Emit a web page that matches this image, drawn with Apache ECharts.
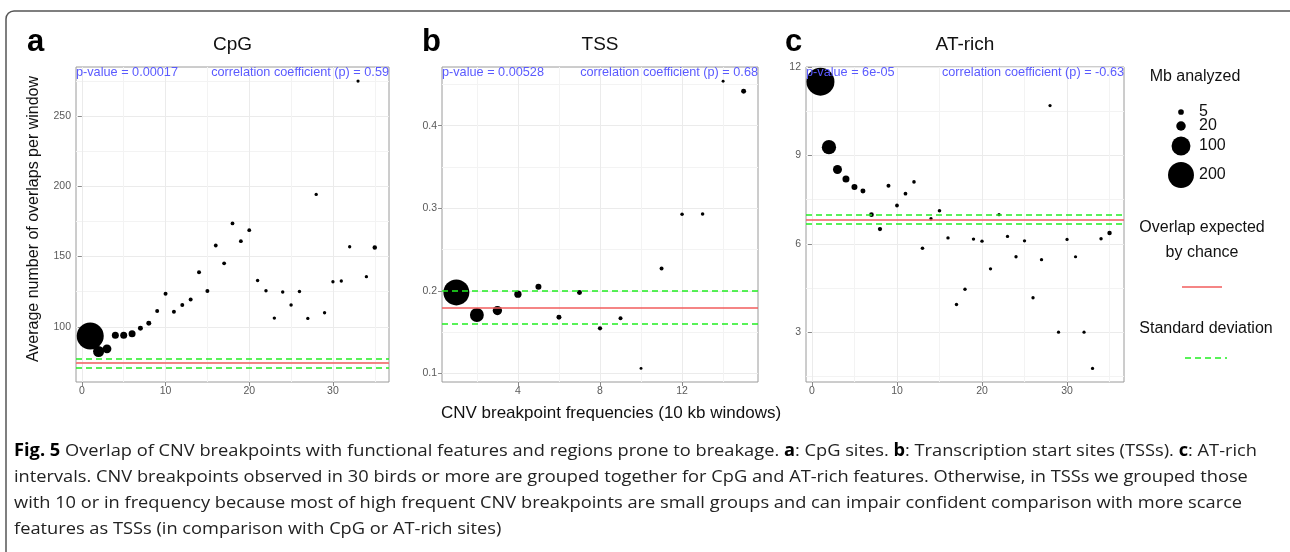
<!DOCTYPE html>
<html><head><meta charset="utf-8">
<script src="https://cdn.jsdelivr.net/npm/echarts@6.0.0/dist/echarts.min.js"></script>
<style>html,body{margin:0;padding:0;background:#fff}#c{width:1290px;height:552px}</style>
</head><body><div id="c"></div>
<script>
// ---------------- DATA ----------------
const freqCpG = [1,2,3,4,5,6,7,8,9,10,11,12,13,14,15,16,17,18,19,20,21,22,23,24,25,26,27,28,29,30,31,32,33,34,35];
const overlapCpG = [93.5,82.4,84.3,94,94,95,99,102.6,111.2,123.6,110.8,115.5,119.5,138.8,125.5,157.9,145.2,173.6,161,168.8,133,125.7,106.2,124.8,115.5,125.2,106,194.3,110,132.1,132.6,157,275,135.7,156.4];
const mbCpG = [218,29,17,9,9,9,3.3,3.3,1.5,1.5,1.5,1.5,1.5,1.5,1.5,1.2,1.2,1.2,1.2,1.2,0.8,0.8,0.8,0.8,0.8,0.8,0.7,0.7,0.7,0.7,0.7,0.7,0.6,0.7,2.3];
const expCpG = {mean: 74.1, lower: 70.5, upper: 77.4};

const freqTSS = [1,2,3,4,5,6,7,8,9,10,11,12,13,14,15];
const overlapTSS = [0.198,0.1707,0.176,0.1958,0.205,0.168,0.198,0.1545,0.1667,0.106,0.227,0.2927,0.293,0.4537,0.4416];
const mbTSS = [200,50,19,10,5.8,3.3,3.3,2,1.5,0.4,1.5,0.9,0.9,0.4,3.3];
const expTSS = {mean: 0.184, lower: 0.163, upper: 0.205};

const freqAT = [1,2,3,4,5,6,7,8,9,10,11,12,13,14,15,16,17,18,19,20,21,22,23,24,25,26,27,28,29,30,31,32,33,34,35];
const overlapAT = [11.5,9.28,8.52,8.2,7.93,7.79,6.99,6.5,7.97,7.3,7.7,8.1,5.85,6.85,7.12,6.2,3.94,4.46,6.16,6.09,5.15,6.99,6.25,5.56,6.1,4.17,5.46,10.69,3.0,6.15,5.56,3.0,1.77,6.17,6.37];
const mbAT = [235,53,17.4,9,5.8,3.3,2.7,2,1.5,1.2,1.2,1,1,0.7,1,0.8,0.8,0.8,0.8,0.8,0.7,0.7,0.7,0.7,0.7,0.7,0.7,0.6,0.6,0.6,0.6,0.6,0.6,0.8,2.3];
const expAT = {mean: 6.82, lower: 6.67, upper: 6.99};

const xTicksCpG = [0,10,20,30], xMinorCpG = [5,15,25,35];
const yTicksCpG = [100,150,200,250], yMinorCpG = [75,125,175,225,275];
const xTicksTSS = [4,8,12], xMinorTSS = [2,6,10,14];
const yTicksTSS = [0.1,0.2,0.3,0.4], yMinorTSS = [0.15,0.25,0.35,0.45];
const xTicksAT = [0,10,20,30], xMinorAT = [5,15,25,35];
const yTicksAT = [3,6,9,12], yMinorAT = [1.5,4.5,7.5,10.5];

const legendMb = [5,20,100,200];
const panelTitles = ['CpG','TSS','AT-rich'];
const panelLetters = ['a','b','c'];
const pValues = ['p-value = 0.00017','p-value = 0.00528','p-value = 6e-05'];
const corrTexts = ['correlation coefficient (p) = 0.59','correlation coefficient (p) = 0.68','correlation coefficient (p) = -0.63'];
const yTitle = 'Average number of overlaps per window';
const xTitle = 'CNV breakpoint frequencies (10 kb windows)';
const legendTitles = ['Mb analyzed','Overlap expected','by chance','Standard deviation'];
const captionLines = [
  [['Fig. 5',1],[' Overlap of CNV breakpoints with functional features and regions prone to breakage. ',0],['a',1],[': CpG sites. ',0],['b',1],[': Transcription start sites (TSSs). ',0],['c',1],[': AT-rich',0]],
  [['intervals. CNV breakpoints observed in 30 birds or more are grouped together for CpG and AT-rich features. Otherwise, in TSSs we grouped those',0]],
  [['with 10 or in frequency because most of high frequent CNV breakpoints are small groups and can impair confident comparison with more scarce',0]],
  [['features as TSSs (in comparison with CpG or AT-rich sites)',0]]
];

// ---------------- LAYOUT / STYLE ----------------
const FONT = 'Liberation Sans, Arial, sans-serif';
const RED = '#f25c5c', GREEN = '#22ee22', BLUE = '#5a5aff';
const sizeFn = mb => 1.7 * Math.sqrt(mb) + 1.9;
const grids = [
  {left: 76, top: 67, width: 313, height: 315},
  {left: 442, top: 67, width: 316, height: 315},
  {left: 806, top: 67, width: 318, height: 315}
];
const ranges = [
  {x: [-0.7, 36.7], y: [60.7, 285]},
  {x: [0.3, 15.7], y: [0.0895, 0.471]},
  {x: [-0.7, 36.7], y: [1.31, 12.0]}
];
const panels = [
  {freq: freqCpG, val: overlapCpG, mb: mbCpG, exp: expCpG, xt: xTicksCpG, xm: xMinorCpG, yt: yTicksCpG, ym: yMinorCpG},
  {freq: freqTSS, val: overlapTSS, mb: mbTSS, exp: expTSS, xt: xTicksTSS, xm: xMinorTSS, yt: yTicksTSS, ym: yMinorTSS},
  {freq: freqAT, val: overlapAT, mb: mbAT, exp: expAT, xt: xTicksAT, xm: xMinorAT, yt: yTicksAT, ym: yMinorAT}
];

const xAxes = [], yAxes = [], series = [], graphics = [];
panels.forEach((p, i) => {
  const r = ranges[i];
  const common = {type: 'value', gridIndex: i, axisLine: {show: false}};
  xAxes.push(Object.assign({}, common, {
    min: r.x[0], max: r.x[1], position: 'bottom',
    axisTick: {show: true, length: 4, lineStyle: {color: '#8a8a8a'}, customValues: p.xt},
    axisLabel: {customValues: p.xt, color: '#5a5a5a', fontSize: 10.5, fontFamily: FONT, margin: 4},
    splitLine: {show: true, lineStyle: {color: '#ebebeb', width: 1}}
  }));
  xAxes.push(Object.assign({}, common, {
    min: r.x[0], max: r.x[1], position: 'bottom',
    axisTick: {show: false, customValues: p.xm}, axisLabel: {show: false},
    splitLine: {show: true, lineStyle: {color: '#f3f3f3', width: 1}}
  }));
  yAxes.push(Object.assign({}, common, {
    min: r.y[0], max: r.y[1], position: 'left',
    axisTick: {show: true, length: 4, lineStyle: {color: '#8a8a8a'}, customValues: p.yt},
    axisLabel: {customValues: p.yt, color: '#5a5a5a', fontSize: 10.5, fontFamily: FONT, margin: 5},
    splitLine: {show: true, lineStyle: {color: '#ebebeb', width: 1}}
  }));
  yAxes.push(Object.assign({}, common, {
    min: r.y[0], max: r.y[1], position: 'left',
    axisTick: {show: false, customValues: p.ym}, axisLabel: {show: false},
    splitLine: {show: true, lineStyle: {color: '#f3f3f3', width: 1}}
  }));
  series.push({
    type: 'scatter', xAxisIndex: 2 * i, yAxisIndex: 2 * i, z: 3,
    data: p.freq.map((f, k) => [f, p.val[k], p.mb[k]]),
    symbolSize: v => sizeFn(v[2]),
    itemStyle: {color: '#000', opacity: 1},
    clip: false, silent: true, animation: false,
    markLine: {
      silent: true, symbol: 'none', animation: false, label: {show: false}, z: 4,
      data: [
        {yAxis: p.exp.mean, lineStyle: {color: RED, width: 1.6, type: 'solid'}},
        {yAxis: p.exp.lower, lineStyle: {color: GREEN, width: 1.6, type: [6, 4]}},
        {yAxis: p.exp.upper, lineStyle: {color: GREEN, width: 1.6, type: [6, 4]}}
      ]
    }
  });
  const g = grids[i];
  graphics.push({type: 'text', x: g.left + g.width / 2, y: 45, style: {text: panelTitles[i], font: '19px ' + FONT, fill: '#111', align: 'center', verticalAlign: 'middle', textAlign: 'center', textVerticalAlign: 'middle'}});
  graphics.push({type: 'text', x: [27, 422, 785][i], y: 42, style: {text: panelLetters[i], font: 'bold 31px ' + FONT, fill: '#000', align: 'left', verticalAlign: 'middle', textAlign: 'left', textVerticalAlign: 'middle'}});
  graphics.push({type: 'text', x: g.left, y: 72, z: 10, style: {text: pValues[i], font: '12.7px ' + FONT, fill: BLUE, align: 'left', verticalAlign: 'middle', textAlign: 'left', textVerticalAlign: 'middle'}});
  graphics.push({type: 'text', x: g.left + g.width, y: 72, z: 10, style: {text: corrTexts[i], font: '12.7px ' + FONT, fill: BLUE, align: 'right', verticalAlign: 'middle', textAlign: 'right', textVerticalAlign: 'middle'}});
});

// axis titles
graphics.push({type: 'text', x: 34, y: 219, rotation: Math.PI / 2, style: {text: yTitle, font: '16px ' + FONT, fill: '#111', align: 'center', verticalAlign: 'middle', textAlign: 'center', textVerticalAlign: 'middle'}});
graphics.push({type: 'text', x: 611, y: 413, style: {text: xTitle, font: '17px ' + FONT, fill: '#111', align: 'center', verticalAlign: 'middle', textAlign: 'center', textVerticalAlign: 'middle'}});

// legend
const legTxt = (t, x, y, align) => ({type: 'text', x: x, y: y, style: {text: t, font: '16px ' + FONT, fill: '#111', align: align, verticalAlign: 'middle', textAlign: align, textVerticalAlign: 'middle'}});
graphics.push(legTxt(legendTitles[0], 1195, 77, 'center'));
const legY = [112, 126, 146, 175];
legendMb.forEach((v, k) => {
  graphics.push({type: 'circle', shape: {cx: 1181, cy: legY[k], r: sizeFn(v) / 2}, style: {fill: '#000'}});
  graphics.push(legTxt(String(v), 1199, legY[k], 'left'));
});
graphics.push(legTxt(legendTitles[1], 1202, 228, 'center'));
graphics.push(legTxt(legendTitles[2], 1202, 253, 'center'));
graphics.push({type: 'line', shape: {x1: 1182, y1: 287, x2: 1222, y2: 287}, style: {stroke: RED, lineWidth: 1.6}});
graphics.push(legTxt(legendTitles[3], 1206, 329, 'center'));
graphics.push({type: 'line', shape: {x1: 1185, y1: 358, x2: 1227, y2: 358}, style: {stroke: GREEN, lineWidth: 1.6, lineDash: [6, 4]}});

// outer frame
graphics.push({type: 'rect', shape: {x: 6, y: 11, width: 1300, height: 620, r: 8}, style: {fill: 'none', stroke: '#555', lineWidth: 1.5}, z: -1});

// caption
const CAP_FONT = 'Open Sans', CAP_SIZE = 17;
const cv = document.createElement('canvas').getContext('2d');
function lineWidth(segs) {
  let w = 0;
  segs.forEach(s => { cv.font = (s[1] ? 'bold ' : '') + CAP_SIZE + 'px "' + CAP_FONT + '"'; w += cv.measureText(s[0]).width; });
  return w;
}
const capScale = 1243 / lineWidth(captionLines[0]);
const capY = [451, 477, 503, 529];
captionLines.forEach((segs, k) => {
  const text = segs.map(s => '{' + (s[1] ? 'b' : 'n') + '|' + s[0] + '}').join('');
  graphics.push({
    type: 'text', x: 14, y: capY[k], scaleX: capScale, scaleY: 1,
    style: {
      text: text, fontFamily: CAP_FONT, fontSize: CAP_SIZE, fill: '#222',
      align: 'left', verticalAlign: 'middle', textAlign: 'left', textVerticalAlign: 'middle',
      rich: {
        b: {fontFamily: CAP_FONT, fontSize: CAP_SIZE, fontWeight: 'bold', fill: '#000'},
        n: {fontFamily: CAP_FONT, fontSize: CAP_SIZE, fill: '#222'}
      }
    }
  });
});

const chart = echarts.init(document.getElementById('c'), null, {renderer: 'canvas'});
chart.setOption({
  backgroundColor: '#fff',
  animation: false,
  grid: grids.map(g => Object.assign({show: true, borderColor: '#9a9a9a', borderWidth: 1, backgroundColor: '#fff', containLabel: false, outerBoundsMode: 'none'}, g)),
  xAxis: xAxes,
  yAxis: yAxes,
  series: series,
  graphic: {elements: graphics}
});
</script></body></html>
